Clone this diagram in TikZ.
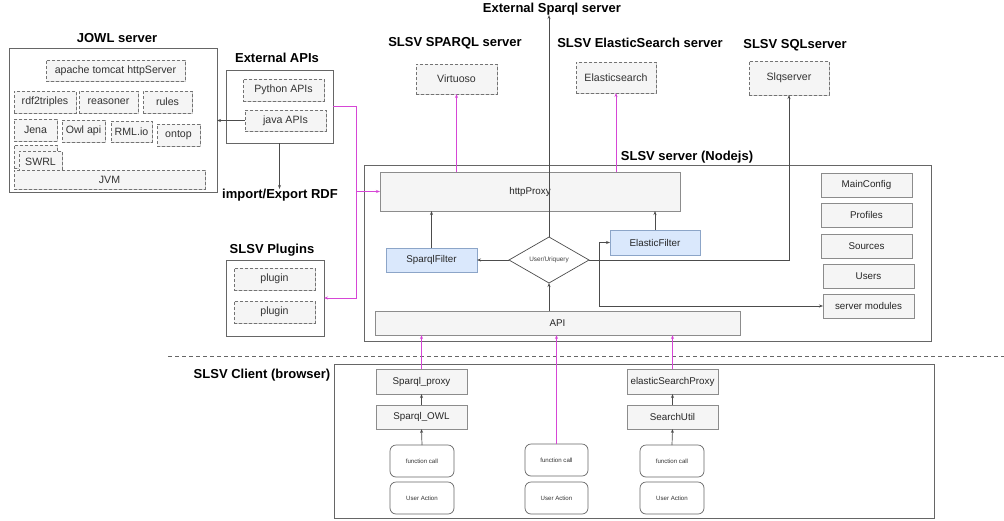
\documentclass[tikz,border=0pt]{standalone}
\usepackage{fontspec}
\setmainfont{Liberation Sans}
\usetikzlibrary{shapes.geometric,shadows,arrows.meta}
\definecolor{mag}{RGB}{214,70,214}
\definecolor{bfill}{RGB}{218,232,252}
\definecolor{bdraw}{RGB}{140,165,200}
\newcommand\fs[1]{\fontsize{#1}{#1}\selectfont}
\newcommand\bx[7]{\node[#1, minimum width={(#5-#3)*1pt}, minimum height={(#6-#4)*1pt}] (#2) at ({(#3+#5)/2},{-(#4+#6)/2}) {#7};}
\tikzset{
  every node/.style={inner sep=0pt, outer sep=0pt},
  shad/.style={drop shadow={shadow xshift=1.2pt, shadow yshift=-1.2pt, fill=black!40, opacity=.5}},
  dbox/.style={draw=black!55, dash pattern=on 3pt off 2pt, line width=0.9pt, fill=black!4, shad, text=black!80, font=\fs{10.6}},
  sbox/.style={draw=black!45, line width=0.8pt, fill=black!4, shad, text=black!85, font=\fs{9.8}},
  bbox/.style={draw=bdraw, line width=0.8pt, fill=bfill, shad, text=black!85, font=\fs{9.8}},
  rbox/.style={draw=black!60, line width=0.7pt, rounded corners=6pt, fill=white, text=black!80, font=\fs{6.1}},
  cont/.style={draw=black!60, line width=0.8pt},
  ttl/.style={font=\bfseries\fs{13}, text=black},
  arr/.style={draw=black!70, line width=0.7pt, -{Stealth[length=4pt,width=3pt]}},
  marr/.style={draw=mag, line width=0.7pt, -{Stealth[length=4pt,width=3pt]}},
}
\begin{document}
\begin{tikzpicture}[x=1pt,y=1pt]
\useasboundingbox (0,0) rectangle (1004,-520);
% ---------------- JOWL server
\node[ttl] (tjowl) at (117,-38) {JOWL server};
\bx{cont}{jowl}{9}{48}{217}{192}{}
\bx{dbox}{tomcat}{46}{60}{185}{81}{apache tomcat httpServer}
\bx{dbox}{rdf}{14}{91}{76}{113}{rdf2triples}
\bx{dbox}{reas}{79}{91}{138}{113}{reasoner}
\bx{dbox}{rules}{143}{91}{192}{113}{rules}
\bx{dbox}{jena}{14}{119}{57}{141}{Jena}
\bx{dbox}{owlapi}{62}{120}{105}{142}{Owl api}
\bx{dbox}{rml}{111}{121}{152}{142}{RML.io}
\bx{dbox}{ontop}{157}{124}{200}{146}{ontop}
\bx{dbox}{swrlb}{14}{145}{57}{168}{}
\bx{dbox}{swrl}{19}{151}{62}{172}{SWRL}
\bx{dbox}{jvm}{14}{170}{205}{189}{JVM}
% ---------------- External APIs
\node[ttl] (text) at (277,-58) {External APIs};
\bx{cont}{ext}{226}{70}{333}{143}{}
\bx{dbox}{python}{243}{79}{324}{101}{Python APIs}
\bx{dbox}{java}{245}{110}{326}{131}{java APIs}
\node[ttl] (imp) at (280,-195) {import/Export RDF};
\draw[arr] (java.west) -- (jowl.east |- java.west);
\draw[arr] (ext.south) -- (ext.south |- imp.north);
% ---------------- Plugins
\node[ttl] (tplug) at (272,-250) {SLSV Plugins};
\bx{cont}{plugins}{226}{260}{324}{336}{}
\bx{dbox}{plug1}{234}{268}{315}{290}{plugin}
\bx{dbox}{plug2}{234}{301}{315}{323}{plugin}
% ---------------- top servers
\node[ttl] (esq) at (552,-9) {External Sparql server};
\node[ttl] (tvirt) at (455,-43) {SLSV SPARQL server};
\node[ttl] (telas) at (640,-43) {SLSV ElasticSearch server};
\node[ttl] (tsql) at (795,-45) {SLSV SQLserver};
\bx{dbox}{virt}{416}{64}{497}{94}{Virtuoso}
\bx{dbox}{elas}{576}{62}{656}{93}{Elasticsearch}
\bx{dbox}{sql}{749}{61}{829}{95}{Slqserver}
% ---------------- SLSV server
\node[ttl] (tserv) at (687,-157) {SLSV server (Nodejs)};
\bx{cont}{serv}{364}{165}{931}{341}{}
\bx{sbox}{proxy}{380}{172}{680}{211}{httpProxy}
\bx{bbox}{sfilt}{386}{248}{477}{272}{SparqlFilter}
\bx{bbox}{efilt}{610}{230}{700}{255}{ElasticFilter}
\node[diamond, draw=black!70, line width=0.7pt, fill=white, minimum width=80pt, minimum height=46pt, aspect=1.74, font=\fs{6.4}, text=black!75] (dia) at (549,-260) {User/Uriquery};
\bx{sbox}{api}{375}{311}{740}{335}{API}
\bx{sbox}{mainc}{821}{173}{912}{197}{MainConfig}
\bx{sbox}{prof}{821}{203}{912}{227}{Profiles}
\bx{sbox}{src}{821}{234}{912}{258}{Sources}
\bx{sbox}{users}{823}{264}{914}{288}{Users}
\bx{sbox}{smod}{823}{294}{914}{318}{server modules}
\draw[arr] (sfilt.north) -- (proxy.south -| sfilt.north);
\draw[arr] (efilt.north) -- (proxy.south -| efilt.north);
\draw[arr] (dia.west) -- (sfilt.east |- dia.west);
\draw[arr] (api.north -| dia.south) -- (dia.south);
\draw[arr] (dia.north) -- (dia.north |- esq.south);
\draw[arr] (dia.east) -| (sql.south);
\coordinate (br) at (599,-260);
\draw[arr] (br) |- (efilt.west);
\draw[arr] (br) |- (smod.west);
\draw[marr] (proxy.north -| virt.south) -- (virt.south);
\draw[marr] (proxy.north -| elas.south) -- (elas.south);
\coordinate (mj) at (356,-191.5);
\coordinate (mp) at (356,-298);
\draw[marr] (ext.east) -| (mp) -- (plugins.east);
\draw[marr] (mj) -- (proxy.west);
% ---------------- separator
\draw[black!60, line width=0.7pt, dash pattern=on 4pt off 3pt] (168,-356) -- (1004,-356);
% ---------------- client
\node[ttl] (tcli) at (262,-375) {SLSV Client (browser)};
\bx{cont}{cli}{334}{364}{934}{518}{}
\bx{sbox}{sprox}{376}{369}{467}{394}{Sparql\_proxy}
\bx{sbox}{sowl}{376}{405}{467}{429}{Sparql\_OWL}
\bx{rbox}{fc1}{390}{445}{454}{477}{function call}
\bx{rbox}{ua1}{390}{482}{454}{514}{User Action}
\bx{rbox}{fc2}{525}{444}{588}{476}{function call}
\bx{rbox}{ua2}{525}{482}{588}{514}{User Action}
\bx{sbox}{eprox}{627}{369}{718}{394}{elasticSearchProxy}
\bx{sbox}{sutil}{627}{405}{718}{429}{SearchUtil}
\bx{rbox}{fc3}{640}{445}{704}{477}{function call}
\bx{rbox}{ua3}{640}{482}{704}{514}{User Action}
\draw[arr] (sowl.north) -- (sprox.south);
\draw[arr] (fc1.north) -- (sowl.south);
\draw[arr] (sutil.north) -- (eprox.south);
\draw[arr] (fc3.north) -- (sutil.south);
\draw[marr] (sprox.north) -- (api.south -| sprox.north);
\draw[marr] (fc2.north) -- (api.south -| fc2.north);
\draw[marr] (eprox.north) -- (api.south -| eprox.north);
\end{tikzpicture}
\end{document}
